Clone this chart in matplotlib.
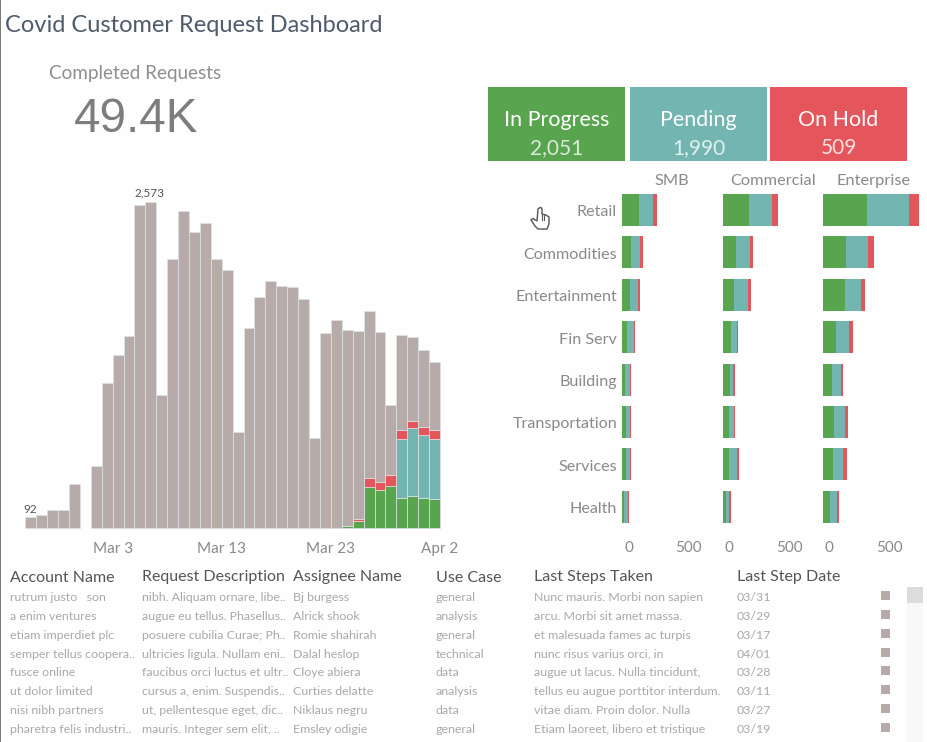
import matplotlib
matplotlib.use("Agg")
import matplotlib.pyplot as plt
from matplotlib.patches import Rectangle
from matplotlib.path import Path
from matplotlib.patches import PathPatch
from matplotlib.transforms import ScaledTranslation

W, H = 927, 742
FONT = "Lato"
plt.rcParams["font.family"] = [FONT, "DejaVu Sans"]

GREEN, TEAL, RED, GRAY = "#59a44f", "#72b5b1", "#e4565c", "#b6aba9"

# Daily requests (day 0 = Feb 24)
days = list(range(38))
totals = [92, 103, 147, 147, 347, 0, 489, 1144, 1365, 1515, 2549, 2573, 1052, 2126, 2502,
          2339, 2407, 2126, 2036, 763, 1581, 1826, 1952, 1910, 1902, 1813, 710, 1544, 1647,
          1565, 1558, 1713, 1550, 971, 1523, 1508, 1410, 1313]
in_progress = [0]*28 + [5, 18, 61, 329, 300, 337, 237, 258, 242, 229]
pending = [0]*34 + [471, 534, 497, 479]
on_hold = [0]*30 + [16, 68, 66, 87, 68, 58, 61, 68]
completed = [t - a - b - c for t, a, b, c in zip(totals, in_progress, pending, on_hold)]
date_ticks = [8, 18, 28, 38]
date_labels = ["Mar 3", "Mar 13", "Mar 23", "Apr 2"]

industries = ["Retail", "Commodities", "Entertainment", "Fin Serv", "Building",
              "Transportation", "Services", "Health"]
segments = ["SMB", "Commercial", "Enterprise"]
smb_green = [126, 66, 58, 35, 20, 28, 28, 15]
smb_teal = [109, 68, 61, 51, 35, 28, 28, 25]
smb_red = [28, 23, 15, 8, 10, 10, 10, 10]
com_green = [199, 98, 81, 58, 53, 45, 45, 23]
com_teal = [172, 106, 111, 51, 23, 38, 61, 23]
com_red = [43, 23, 23, 5, 18, 10, 15, 13]
ent_green = [336, 172, 164, 98, 71, 83, 76, 56]
ent_teal = [313, 169, 126, 101, 66, 81, 78, 51]
ent_red = [78, 43, 30, 28, 13, 28, 30, 15]

kpi_names = ["In Progress", "Pending", "On Hold"]
kpi_values = ["2,051", "1,990", "509"]

table_headers = ["Account Name", "Request Description", "Assignee Name", "Use Case",
                 "Last Steps Taken", "Last Step Date"]
accounts = ["rutrum justo   son", "a enim ventures", "etiam imperdiet plc", "semper tellus coopera..",
            "fusce online", "ut dolor limited", "nisi nibh partners", "pharetra felis industri.."]
descriptions = ["nibh. Aliquam ornare, libe..", "augue eu tellus. Phasellus..",
                "posuere cubilia Curae; Ph..", "ultricies ligula. Nullam eni..",
                "faucibus orci luctus et ultr..", "cursus a, enim. Suspendis..",
                "ut, pellentesque eget, dic..", "mauris. Integer sem elit, .."]
assignees = ["Bj burgess", "Alrick shook", "Romie shahirah", "Dalal heslop", "Cloye abiera",
             "Curties delatte", "Niklaus negru", "Emsley odigie"]
use_cases = ["general", "analysis", "general", "technical", "data", "analysis", "data", "general"]
last_steps = ["Nunc mauris. Morbi non sapien", "arcu. Morbi sit amet massa.",
              "et malesuada fames ac turpis", "nunc risus varius orci, in",
              "augue ut lacus. Nulla tincidunt,", "tellus eu augue porttitor interdum.",
              "vitae diam. Proin dolor. Nulla", "Etiam laoreet, libero et tristique"]
last_dates = ["03/31", "03/29", "03/17", "04/01", "03/28", "03/11", "03/27", "03/19"]

fig = plt.figure(figsize=(W/100, H/100), dpi=100, facecolor="#fefefe")

def axes_px(x0, y0, x1, y1, **kw):
    return fig.add_axes([x0/W, 1 - y1/H, (x1-x0)/W, (y1-y0)/H], **kw)

# Overlay in pixel coordinates for layout pieces
ov = axes_px(0, 0, W, H, zorder=0)
ov.set_xlim(0, W); ov.set_ylim(H, 0); ov.axis("off")
ov.add_patch(Rectangle((0, 0), 1.2, H, color="#7a7a7a", lw=0))

ov.text(5, 25, "Covid Customer Request Dashboard", fontsize=17, color="#4f5b6b", va="center", ha="left")
ov.text(49, 74, "Completed Requests", fontsize=13.6, color="#8f8f8f", va="center", ha="left")
ov.text(136.5, 120, "49.4K", fontsize=34.3, color="#7d7d7d", va="center", ha="center",
        family=["Liberation Sans", "DejaVu Sans"])

tiles = [(488.5, 625, GREEN, "#dcebd9"), (630, 767, TEAL, "#e0f0ee"), (770, 907, RED, "#fbe0e0")]
for (x0, x1, col, vcol), name, val in zip(tiles, kpi_names, kpi_values):
    ov.add_patch(Rectangle((x0, 87.3), x1-x0, 73.4, color=col, lw=0))
    ov.text((x0+x1)/2, 120, name, fontsize=15.4, color="white", va="center", ha="center")
    ov.text((x0+x1)/2, 148.3, val, fontsize=15, color=vcol, va="center", ha="center")

# Daily stacked bars
ax = axes_px(25.3, 202.3, 440, 528.3)
ax.patch.set_alpha(0)
ax.set_xlim(0, 38); ax.set_ylim(0, 2573)
bottom = [0]*38
for vals, col in [(in_progress, GREEN), (pending, TEAL), (on_hold, RED), (completed, GRAY)]:
    ax.bar(days, vals, width=1, align="edge", bottom=bottom, color=col,
           edgecolor="#dde3e4", linewidth=[0.5 if v > 0 else 0 for v in vals], clip_on=False)
    bottom = [b + v for b, v in zip(bottom, vals)]
for s in ax.spines.values():
    s.set_visible(False)
ax.set_yticks([])
ax.set_xticks(date_ticks, date_labels, fontsize=11, color="#8a8a8a")
ax.tick_params(axis="x", length=0, pad=9.7)
ax.annotate("2,573", xy=(11.4, 2573), xytext=(0, 3), textcoords="offset points",
            fontsize=8.5, color="#555555", ha="center", va="bottom")
ax.annotate("92", xy=(0.45, 92), xytext=(0, 1.5), textcoords="offset points",
            fontsize=8.5, color="#555555", ha="center", va="bottom")

# Small-multiple bars
rows = list(range(len(industries)))
facets = [(622.3, smb_green, smb_teal, smb_red), (723, com_green, com_teal, com_red),
          (823, ent_green, ent_teal, ent_red)]
for i, ((x0, g, t, r), seg) in enumerate(zip(facets, segments)):
    a = axes_px(x0, 188.8, x0 + 100, 527.9)
    a.patch.set_alpha(0)
    a.set_xlim(0, 100/0.132); a.set_ylim(7.5, -0.5)
    left = [0]*8
    for vals, col in [(g, GREEN), (t, TEAL), (r, RED)]:
        a.barh(rows, vals, height=0.755, left=left, color=col, linewidth=0)
        left = [l + v for l, v in zip(left, vals)]
    for s in a.spines.values():
        s.set_visible(False)
    a.set_xticks([0, 500], ["0", "500"], fontsize=11, color="#8a8a8a")
    a.tick_params(axis="x", length=0, pad=9.7)
    lab0 = a.get_xticklabels()[0]
    lab0.set_transform(lab0.get_transform() + ScaledTranslation(6.4/100, 0, fig.dpi_scale_trans))
    if i == 0:
        a.set_yticks(rows, industries, fontsize=11.6, color="#8a8a8a")
        a.tick_params(axis="y", length=0, pad=3.8)
        for lab in a.get_yticklabels():
            lab.set_transform(lab.get_transform() + ScaledTranslation(0, -1/100, fig.dpi_scale_trans))
    else:
        a.set_yticks([])
    ov.text([672.3, 772.7, 873.3][i], 181, seg, fontsize=11.8, color="#8a8a8a", ha="center", va="center")

# Table
col_x = [10, 142, 293, 436, 534, 737]
row_y = [597.8, 616.5, 635.2, 654.2, 672.8, 691.5, 710.5, 729.5]
for x, head, col in zip(col_x, table_headers,
                        [accounts, descriptions, assignees, use_cases, last_steps, last_dates]):
    ov.text(x, 577.5, head, fontsize=11.5, color="#555555", ha="left", va="center")
    for y, val in zip(row_y, col):
        ov.text(x, y, val, fontsize=8.9, color="#a9a9a9", ha="left", va="center")
for y in row_y:
    ov.add_patch(Rectangle((881, y - 6.5), 9, 9, color=GRAY, lw=0))

# Scrollbar
ov.add_patch(Rectangle((907, 603), 16, H-603, color="#f8f8f8", lw=0))
ov.add_patch(Rectangle((907, 587), 16, 16, color="#dcdcdc", lw=0))

# Pointer cursor over the Retail row
hand = [(539, 208), (541, 207.5), (542, 209), (542, 214), (546, 215), (549, 217), (549, 224),
        (547, 229), (538, 229), (535, 226), (531, 220), (533, 218.5), (537, 221), (538, 209), (539, 208)]
ov.add_patch(PathPatch(Path(hand), fc="white", ec="#555555", lw=1.0, zorder=5))
for x in (542, 544.5):
    ov.plot([x, x], [214.5, 220], color="#555555", lw=0.8, zorder=6)

fig.savefig("out.png", dpi=100, facecolor=fig.get_facecolor())
